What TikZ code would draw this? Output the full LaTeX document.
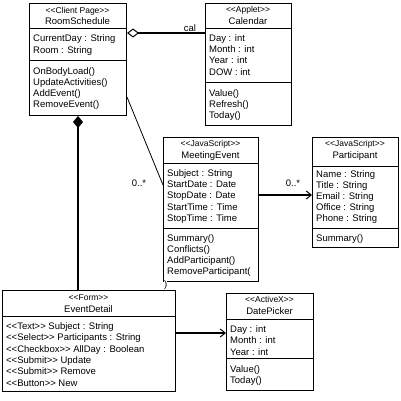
\documentclass[tikz,border=0pt]{standalone}
\usepackage{fontspec}
\setmainfont{Liberation Sans}
\usetikzlibrary{arrows.meta}
\newcommand\stereo[1]{<\kern0pt<#1>\kern0pt>}
\begin{document}
\begin{tikzpicture}[x=1pt,y=-1pt,
  box/.style={draw,line width=1pt,inner sep=0pt,anchor=north west},
  sepline/.style={line width=1pt},
  txt/.style={inner sep=0pt,anchor=west,font=\fontsize{9.5}{11}\selectfont,text height=7pt,text depth=2pt},
  hdr/.style={txt,anchor=center},
  sthdr/.style={hdr,font=\fontsize{8.5}{10}\selectfont},
  conn/.style={line width=1.6pt},
  thinconn/.style={line width=0.8pt},
  lbl/.style={txt,anchor=center},
  barb/.style={-{Straight Barb[length=5pt,width=8pt,line width=1pt]}}
]
\useasboundingbox (0,0) rectangle (400,401);

% ---------- RoomSchedule ----------
\node[box,minimum width=97pt,minimum height=112pt] (rs) at (29,3) {};
\draw[sepline] (rs.west |- 0,29) -- (rs.east |- 0,29);
\draw[sepline] (rs.west |- 0,61) -- (rs.east |- 0,61);
\node[sthdr] (rsst) at (77.5,11) {\stereo{Client Page}};
\node[hdr] (rsnm) at (77.5,22) {RoomSchedule};
\foreach \t/\y [count=\i] in {CurrentDay : String/39, Room : String/51}
  \node[txt] (rsa\i) at (33,\y) {\t};
\foreach \t/\y [count=\i] in {OnBodyLoad()/72, UpdateActivities()/83, AddEvent()/94, RemoveEvent()/105}
  \node[txt] (rsm\i) at (33,\y) {\t};

% ---------- Calendar ----------
\node[box,minimum width=86pt,minimum height=122pt] (cal) at (205,3) {};
\draw[sepline] (cal.west |- 0,29) -- (cal.east |- 0,29);
\draw[sepline] (cal.west |- 0,83) -- (cal.east |- 0,83);
\node[sthdr] (calst) at (248,10) {\stereo{Applet}};
\node[hdr] (calnm) at (248,22) {Calendar};
\foreach \t/\y [count=\i] in {Day : int/39, Month : int/50, Year : int/61, DOW : int/73}
  \node[txt] (cala\i) at (209,\y) {\t};
\foreach \t/\y [count=\i] in {Value()/94, Refresh()/105, Today()/116}
  \node[txt] (calm\i) at (209,\y) {\t};

% ---------- MeetingEvent ----------
\node[box,minimum width=95pt,minimum height=144pt] (me) at (163,137) {};
\draw[sepline] (me.west |- 0,163) -- (me.east |- 0,163);
\draw[sepline] (me.west |- 0,228) -- (me.east |- 0,228);
\node[sthdr] (mest) at (210.5,144) {\stereo{JavaScript}};
\node[hdr] (menm) at (210.5,156) {MeetingEvent};
\foreach \t/\y [count=\i] in {Subject : String/174, StartDate : Date/185, StopDate : Date/196, StartTime : Time/208, StopTime : Time/219}
  \node[txt] (mea\i) at (167,\y) {\t};
\foreach \t/\y [count=\i] in {Summary()/239, Conflicts()/250, AddParticipant()/261, RemoveParticipant(/272}
  \node[txt] (mem\i) at (167,\y) {\t};
\node[txt,fill=white] (mex) at (164,285) {)};

% ---------- Participant ----------
\node[box,minimum width=86pt,minimum height=110pt] (par) at (312,137) {};
\draw[sepline] (par.west |- 0,166) -- (par.east |- 0,166);
\draw[sepline] (par.west |- 0,228) -- (par.east |- 0,228);
\node[sthdr] (parst) at (355,144) {\stereo{JavaScript}};
\node[hdr] (parnm) at (355,156) {Participant};
\foreach \t/\y [count=\i] in {Name : String/175, Title : String/186, Email : String/197, Office : String/208, Phone : String/219}
  \node[txt] (para\i) at (316,\y) {\t};
\node[txt] (parm1) at (316,239) {Summary()};

% ---------- EventDetail ----------
\node[box,minimum width=173pt,minimum height=101pt] (ed) at (2,290) {};
\draw[sepline] (ed.west |- 0,316) -- (ed.east |- 0,316);
\node[sthdr] (edst) at (88.5,298) {\stereo{Form}};
\node[hdr] (ednm) at (88.5,310) {EventDetail};
\foreach \t/\y [count=\i] in {\stereo{Text} Subject : String/327, \stereo{Select} Participants : String/338, \stereo{Checkbox} AllDay : Boolean/350, \stereo{Submit} Update/361, \stereo{Submit} Remove/372, \stereo{Button} New/384}
  \node[txt] (eda\i) at (6,\y) {\t};

% ---------- DatePicker ----------
\node[box,minimum width=87pt,minimum height=97pt] (dp) at (226,293) {};
\draw[sepline] (dp.west |- 0,319) -- (dp.east |- 0,319);
\draw[sepline] (dp.west |- 0,358) -- (dp.east |- 0,358);
\node[sthdr] (dpst) at (269.5,300) {\stereo{ActiveX}};
\node[hdr] (dpnm) at (269.5,312) {DatePicker};
\foreach \t/\y [count=\i] in {Day : int/330, Month : int/341, Year : int/353}
  \node[txt] (dpa\i) at (230,\y) {\t};
\foreach \t/\y [count=\i] in {Value()/370, Today()/381}
  \node[txt] (dpm\i) at (230,\y) {\t};

% ---------- Connectors ----------
% aggregation RoomSchedule -> Calendar
\draw[conn,{Diamond[open,length=12pt,width=9pt,line width=1pt]}-] (rs.east |- 0,33) -- (cal.west |- 0,33);
\node[lbl] (lcal) at (190,29) {cal};
% composition RoomSchedule -> EventDetail
\draw[conn,{Diamond[length=12pt,width=10pt]}-] (rs.south -| 78,0) -- (ed.north -| 78,0);
% association RoomSchedule -> MeetingEvent
\draw[thinconn] (rs.east |- 0,97) -- (me.west |- 0,185);
\node[lbl] (lme) at (139,184) {0..*};
% MeetingEvent -> Participant
\draw[conn,barb] (me.east |- 0,195) -- (par.west |- 0,195);
\node[lbl] (lpar) at (293,184) {0..*};
% EventDetail -> DatePicker
\draw[conn,barb] (ed.east |- 0,333) -- (dp.west |- 0,333);
\end{tikzpicture}
\end{document}
